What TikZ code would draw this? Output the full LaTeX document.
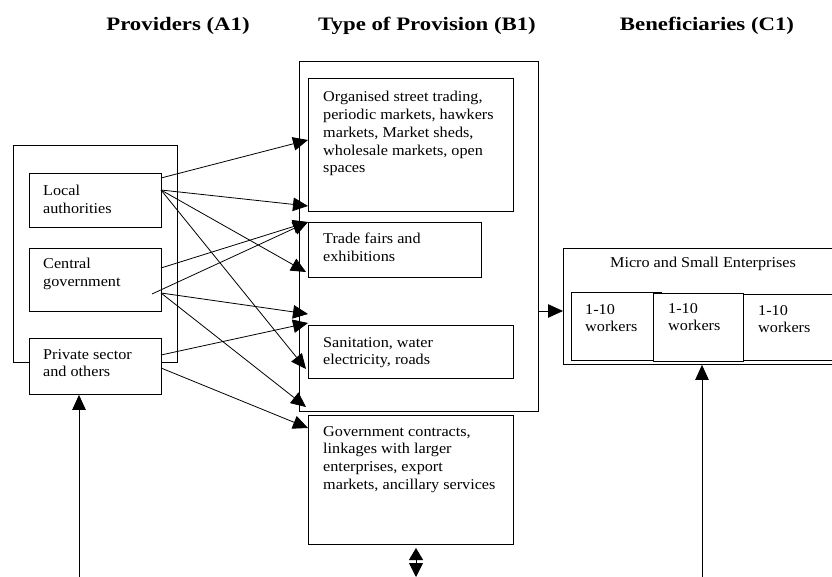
\documentclass[tikz,border=0pt]{standalone}
\usepackage{fontspec}
\setmainfont{Liberation Serif}[FakeStretch=1.08]
\newfontfamily\headfont{Liberation Serif}[FakeStretch=1.2]
\usetikzlibrary{arrows.meta}
\begin{document}
\begin{tikzpicture}[x=1pt,y=-1pt,
  box/.style={draw,line width=0.9pt,inner sep=0pt,anchor=north west},
  txt/.style={anchor=north west,inner sep=0pt,align=left,font=\fontsize{15}{17.8}\selectfont},
  head/.style={anchor=base,inner sep=0pt,font=\headfont\fontsize{19}{22}\selectfont\bfseries},
  arr/.style={line width=0.8pt,-{Triangle[length=15pt,width=13.5pt]}},
  dbl/.style={line width=0.8pt,{Triangle[length=12pt,width=14pt]}-{Triangle[length=14pt,width=14pt]}}]
\clip (0,0) rectangle (832,577);
\fill[white] (0,0) rectangle (832,577);

% column headings
\node[head] (hA) at (178,31) {Providers (A1)};
\node[head] (hB) at (427,31) {Type of Provision (B1)};
\node[head] (hC) at (707,31) {Beneficiaries (C1)};

% providers
\node[box,minimum width=164,minimum height=217] (A) at (13,145) {};
\node[box,fill=white,minimum width=132,minimum height=54] (la) at (29,173) {};
\node[box,minimum width=132,minimum height=63] (cg) at (29,248) {};
\node[box,fill=white,minimum width=132,minimum height=56] (ps) at (29,338) {};
\node[txt] (tla) at (43,185) {Local\\authorities};
\node[txt] (tcg) at (43,258) {Central\\government};
\node[txt] (tps) at (43,349) {Private sector\\and others};

% types of provision
\node[box,minimum width=239,minimum height=350] (B) at (299,61) {};
\node[box,minimum width=205,minimum height=133] (b1) at (308,78) {};
\node[box,minimum width=173,minimum height=55] (b2) at (308,222) {};
\node[box,minimum width=205,minimum height=53] (b3) at (308,325) {};
\node[box,minimum width=205,minimum height=129] (b4) at (308,415) {};
\node[txt] (tb1) at (323,91) {Organised street trading,\\periodic markets, hawkers\\markets, Market sheds,\\wholesale markets, open\\spaces};
\node[txt] (tb2) at (323,233) {Trade fairs and\\exhibitions};
\node[txt] (tb3) at (323,337) {Sanitation, water\\electricity, roads};
\node[txt] (tb4) at (323,426) {Government contracts,\\linkages with larger\\enterprises, export\\markets, ancillary services};

% beneficiaries
\node[box,minimum width=290,minimum height=116] (C) at (563,248) {};
\node[anchor=base,inner sep=0pt,font=\fontsize{15}{18}\selectfont] (tC) at (703,268) {Micro and Small Enterprises};
\node[box,minimum width=90,minimum height=68] (w1) at (571,292) {};
\node[box,fill=white,minimum width=90,minimum height=68] (w2) at (653,293) {};
\node[box,minimum width=110,minimum height=66] (w3) at (743,294) {};
\node[txt] (tw1) at (585,304) {1-10\\workers};
\node[txt] (tw2) at (668,303) {1-10\\workers};
\node[txt] (tw3) at (758,305) {1-10\\workers};

% anchor points of the connectors
\coordinate (la1) at (161,178);
\coordinate (la2) at (161,190);
\coordinate (cg1) at (161,268);
\coordinate (cg2) at (152,294);
\coordinate (cg3) at (161,293);
\coordinate (ps1) at (161,355);
\coordinate (ps2) at (161,368);
\coordinate (e1) at (308,140);
\coordinate (e2) at (308,206);
\coordinate (e3) at (306,272);
\coordinate (e4) at (306,369);
\coordinate (e5) at (308,222);
\coordinate (e6) at (308,314);
\coordinate (e7) at (306,407);
\coordinate (e8) at (308,323);
\coordinate (e9) at (308,428);
\coordinate (bc) at (538,311);
\coordinate (cb) at (563,311);
\coordinate (s1) at (79,577);
\coordinate (s2) at (702,577);
\coordinate (s3) at (416,548);
\coordinate (s4) at (416,577);

\draw[arr] (la1) -- (e1);
\draw[arr] (la2) -- (e2);
\draw[arr] (la2) -- (e3);
\draw[arr] (la2) -- (e4);
\draw[arr] (cg1) -- (e5);
\draw[arr] (cg2) -- (e5);
\draw[arr] (cg3) -- (e6);
\draw[arr] (cg3) -- (e7);
\draw[arr] (ps1) -- (e8);
\draw[arr] (ps2) -- (e9);
\draw[arr] (bc) -- (cb);
\draw[arr] (s1) -- (ps.south -| s1);
\draw[arr] (s2) -- (C.south -| s2);
\draw[dbl] (s3) -- (s4);
\end{tikzpicture}
\end{document}
